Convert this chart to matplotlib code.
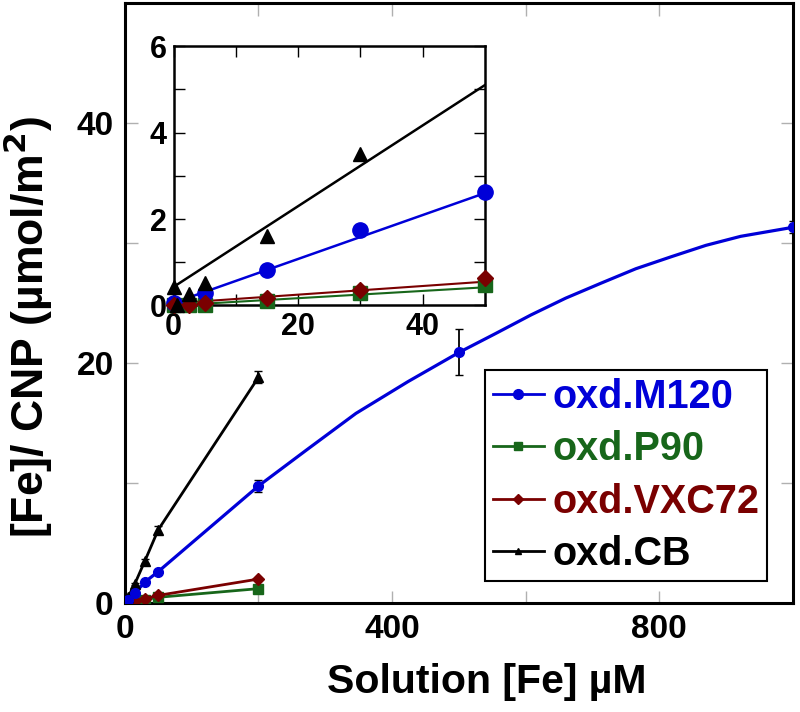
import numpy as np
import matplotlib
matplotlib.use("Agg")
import matplotlib.pyplot as plt
from matplotlib.lines import Line2D

# Data
m120_x   = [0, 5, 15, 30, 50, 200, 500, 1000]
m120_y   = [0.05, 0.28, 0.82, 1.75, 2.62, 9.75, 20.9, 31.3]
m120_err = [0, 0, 0.05, 0.12, 0.1, 0.5, 1.9, 0.5]
# smooth curve drawn through the M120 points
m120_curve_x = [0, 5, 15, 30, 50, 200, 272, 346, 424, 501, 555, 608, 660,
                713, 765, 818, 870, 922, 1000]
m120_curve_y = [0.05, 0.28, 0.82, 1.75, 2.62, 9.75, 12.75, 15.8, 18.45, 20.9,
                22.45, 24.0, 25.4, 26.65, 27.85, 28.85, 29.8, 30.55, 31.3]

p90_x = [0, 2.5, 5, 15, 30, 50, 200]
p90_y = [0.0, 0.0, 0.02, 0.11, 0.29, 0.48, 1.2]

vxc_x = [0, 2.5, 5, 15, 30, 50, 200]
vxc_y = [0.0, 0.02, 0.05, 0.18, 0.36, 0.64, 2.0]

cb_x   = [0, 0.5, 2.5, 5, 15, 30, 50, 200]
cb_y   = [0.43, 0.0, 0.27, 0.51, 1.6, 3.5, 6.1, 18.8]
cb_err = [0, 0, 0, 0, 0.1, 0.15, 0.35, 0.5]

# linear fits shown in the inset (values at x = 0 and x = 50)
fit_x     = [0, 50]
fit_cb    = [0.43, 5.1]
fit_m120  = [0.06, 2.6]
fit_vxc   = [0.05, 0.55]
fit_p90   = [0.0, 0.42]

labels = ["oxd.M120", "oxd.P90", "oxd.VXC72", "oxd.CB"]
blue, green, red, black = "#0000d8", "#17661a", "#7a0000", "black"

xtick_vals   = [0, 200, 400, 600, 800, 1000]
xtick_labels = ["0", "", "400", "", "800", ""]
ytick_vals   = [0, 10, 20, 30, 40, 50]
ytick_labels = ["0", "", "20", "", "40", ""]

INSET_X, INSET_Y = 50, 6


def in_inset(xs, ys, es=None):
    """Keep only the points that fall inside the inset window"""
    keep = [i for i in range(len(xs)) if xs[i] <= INSET_X and ys[i] <= INSET_Y]
    out = [np.array(xs)[keep], np.array(ys)[keep]]
    if es is not None:
        out.append(np.array(es)[keep])
    return out


plt.rcParams["font.family"] = ["Liberation Sans", "DejaVu Sans"]
plt.rcParams["font.weight"] = "bold"

fig = plt.figure(figsize=(8, 7.12), dpi=100)
ax = fig.add_axes([0.156, 0.153, 0.835, 0.843])

# Main plot
ax.plot(m120_curve_x, m120_curve_y, "-", color=blue, lw=2.3, zorder=3)
ax.errorbar(m120_x, m120_y, yerr=m120_err, fmt="o", color=blue, ms=7,
            ecolor="black", elinewidth=1.3, capsize=3, zorder=4)
ax.plot(p90_x, p90_y, "-s", color=green, lw=2, ms=7, zorder=3)
ax.plot(vxc_x, vxc_y, "-D", color=red, lw=2, ms=6, zorder=3)
ax.errorbar(cb_x, cb_y, yerr=cb_err, fmt="-^", color=black, lw=2, ms=6.5,
            ecolor="black", elinewidth=1.3, capsize=3, zorder=3)

ax.set_xlim(0, 1000)
ax.set_ylim(0, 50)
ax.set_xticks(xtick_vals)
ax.set_xticklabels(xtick_labels)
ax.set_yticks(ytick_vals)
ax.set_yticklabels(ytick_labels)
ax.tick_params(direction="in", length=9, width=1, color="#b0b0b0",
               top=True, right=True, labelsize=24, pad=8)
for s in ax.spines.values():
    s.set_linewidth(2.2)
ax.set_xlabel("Solution [Fe] \u00b5M", fontsize=29.5, fontweight="bold")
ax.set_ylabel("[Fe]/ CNP (\u00b5mol/m$^\\mathbf{2}$)", fontsize=32, fontweight="bold")
ax.xaxis.set_label_coords(0.542, -0.1)
ax.yaxis.set_label_coords(-0.105, 0.46)

handles = [Line2D([], [], color=blue, marker="o", lw=2, ms=7),
           Line2D([], [], color=green, marker="s", lw=2, ms=6),
           Line2D([], [], color=red, marker="D", lw=2, ms=5),
           Line2D([], [], color=black, marker="^", lw=2, ms=5)]
leg = ax.legend(handles, labels, loc="upper left", bbox_to_anchor=(0.539, 0.388),
                prop={"weight": "bold", "size": 28.5},
                labelcolor=[blue, green, red, black], frameon=True,
                fancybox=False, framealpha=1, edgecolor="black",
                handlelength=1.3, handletextpad=0.2, labelspacing=0.36,
                borderpad=0.2, borderaxespad=0)
leg.get_frame().set_linewidth(1.5)

# Inset
ins = fig.add_axes([0.217, 0.571, 0.389, 0.364])
ins.plot(fit_x, fit_cb, "-", color=black, lw=1.8)
ins.plot(fit_x, fit_m120, "-", color=blue, lw=1.8)
ins.plot(fit_x, fit_vxc, "-", color=red, lw=1.5)
ins.plot(fit_x, fit_p90, "-", color=green, lw=1.5)

bx, by, be = in_inset(m120_x, m120_y, m120_err)
ins.errorbar(bx, by, yerr=be, fmt="o", color=blue, ms=11,
             ecolor="black", elinewidth=1.2, capsize=3, clip_on=False, zorder=4)
gx, gy = in_inset(p90_x, p90_y)
ins.plot(gx, gy, "s", color=green, ms=10, clip_on=False, zorder=4)
rx, ry = in_inset(vxc_x, vxc_y)
ins.plot(rx, ry, "D", color=red, ms=8.5, clip_on=False, zorder=5)
kx, ky = in_inset(cb_x, cb_y)
ins.plot(kx, ky, "^", color=black, ms=10, clip_on=False, zorder=6)

ins.set_xlim(0, INSET_X)
ins.set_ylim(0, INSET_Y)
ins.set_xticks([0, 20, 40])
ins.set_xticks([10, 30], minor=True)
ins.set_yticks([0, 2, 4, 6])
ins.set_yticks([1, 3, 5], minor=True)
ins.tick_params(which="both", direction="in", length=8, width=1,
                top=True, right=True, labelsize=22, pad=5)
for s in ins.spines.values():
    s.set_linewidth(1.8)

fig.savefig("out.png", dpi=100)
